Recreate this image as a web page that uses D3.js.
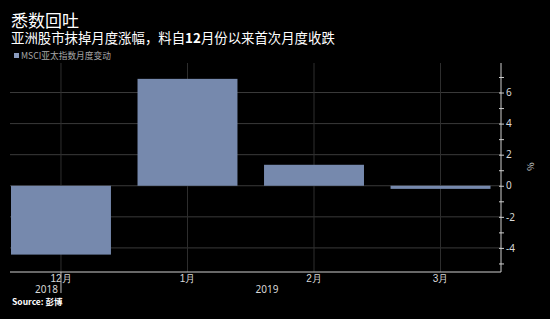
<!DOCTYPE html>
<html>
<head>
<meta charset="utf-8">
<script src="https://cdn.jsdelivr.net/npm/d3@7"></script>
<style>
  body { margin: 0; background: #000; }
  svg { display: block; font-family: "Noto Sans CJK SC", "Noto Sans", sans-serif; }
</style>
</head>
<body>
<div id="content"></div>
<script>
// Données
var months = ["12月", "1月", "2月", "3月"];
var changes = [-4.43, 6.88, 1.35, -0.2];
var yTicks = [-4, -2, 0, 2, 4, 6];
var years = ["2018", "2019"];

var title = "悉数回吐",
    subtitleParts = ["亚洲股市抹掉月度涨幅，料自", "12", "月份以来首次月度收跌"],
    legendLabel = "MSCI亚太指数月度变动",
    source = "彭博";

var width = 550, height = 319;
var plotLeft = 10, plotRight = 501, plotTop = 63, plotBottom = 272;

var svg = d3.select("#content").append("svg")
    .attr("width", width)
    .attr("height", height);

svg.append("rect").attr("width", width).attr("height", height).attr("fill", "#000");

// Échelles
var x = d3.scaleBand()
    .domain(months)
    .range([11, 490.5])
    .paddingInner(0.21)
    .paddingOuter(0);

var y = d3.scaleLinear()
    .domain([-5.55, 7.9])
    .range([plotBottom, plotTop]);

// grille
svg.append("g")
  .selectAll("line")
  .data(yTicks)
  .join("line")
    .attr("x1", plotLeft).attr("x2", plotRight)
    .attr("y1", d => y(d)).attr("y2", d => y(d))
    .attr("stroke", "#3a3a3a")
    .attr("stroke-width", 1);

svg.append("g")
  .selectAll("line")
  .data(months)
  .join("line")
    .attr("x1", d => x(d) + x.bandwidth() / 2).attr("x2", d => x(d) + x.bandwidth() / 2)
    .attr("y1", plotTop).attr("y2", plotBottom)
    .attr("stroke", "#2e2e2e")
    .attr("stroke-width", 1);

// barres
svg.append("g")
  .selectAll("rect")
  .data(changes)
  .join("rect")
    .attr("x", (d, i) => x(months[i]))
    .attr("width", x.bandwidth())
    .attr("y", d => y(Math.max(0, d)))
    .attr("height", d => Math.abs(y(d) - y(0)))
    .attr("fill", "#7689ad");

// axe y
var yAxis = svg.append("g")
    .attr("transform", "translate(" + plotRight + ",0)")
    .call(d3.axisRight(y).tickValues(d3.range(-5, 8)).tickSize(3)
      .tickFormat(d => d % 2 === 0 ? d : ""));
yAxis.select(".domain").attr("stroke", "#cfcfcf").attr("d", "M0," + plotTop + "V" + plotBottom);
yAxis.selectAll(".tick line").attr("stroke", "#cfcfcf").attr("x1", -2);
yAxis.selectAll(".tick text")
    .attr("fill", "#d8d8d8")
    .attr("x", 5)
    .style("font-size", "10px")
    .style("font-family", "'Noto Sans', sans-serif");

svg.append("text")
    .attr("transform", "translate(527," + (y(0) - 19) + ") rotate(90)")
    .attr("text-anchor", "middle")
    .attr("fill", "#d8d8d8")
    .style("font-size", "9px")
    .text("%");

// axe x
svg.append("line")
    .attr("x1", plotLeft).attr("x2", plotRight)
    .attr("y1", plotBottom).attr("y2", plotBottom)
    .attr("stroke", "#cfcfcf");

var xAxis = svg.append("g")
    .attr("transform", "translate(0," + plotBottom + ")")
    .call(d3.axisBottom(x).tickSize(0));
xAxis.select(".domain").remove();
xAxis.selectAll(".tick text")
    .attr("fill", "#d8d8d8")
    .attr("y", 3)
    .style("font-size", "10px");

// séparateur d'année
var sep = x(months[0]) + x.bandwidth() / 2;
svg.append("line")
    .attr("x1", sep).attr("x2", sep)
    .attr("y1", plotBottom).attr("y2", plotBottom + 21)
    .attr("stroke", "#bbbbbb");
svg.append("text")
    .attr("x", sep - 3).attr("y", plotBottom + 21)
    .attr("text-anchor", "end")
    .attr("fill", "#d8d8d8")
    .style("font-size", "10px")
    .style("font-family", "'Noto Sans', sans-serif")
    .text(years[0]);
svg.append("text")
    .attr("x", 267).attr("y", plotBottom + 21)
    .attr("text-anchor", "middle")
    .attr("fill", "#d8d8d8")
    .style("font-size", "10px")
    .style("font-family", "'Noto Sans', sans-serif")
    .text(years[1]);

// titres
svg.append("text")
    .attr("x", 11).attr("y", 27)
    .attr("fill", "#fff")
    .style("font-size", "17px")
    .text(title);
svg.append("text")
    .attr("x", 11).attr("y", 43)
    .attr("fill", "#fff")
    .style("font-size", "13.4px")
  .selectAll("tspan")
  .data(subtitleParts)
  .join("tspan")
    .style("font-weight", (d, i) => i === 1 ? "bold" : "normal")
    .text(d => d);

// légende
svg.append("rect")
    .attr("x", 14).attr("y", 53).attr("width", 5).attr("height", 5)
    .attr("fill", "#8a9bbd");
svg.append("text")
    .attr("x", 21).attr("y", 59)
    .attr("fill", "#a8a8a8")
    .style("font-size", "8.7px")
    .text(legendLabel);

// source
svg.append("text")
    .attr("x", 12).attr("y", 305)
    .attr("fill", "#fff")
    .style("font-size", "8.5px")
    .style("font-weight", "bold")
    .text("Source: " + source);
</script>
</body>
</html>
